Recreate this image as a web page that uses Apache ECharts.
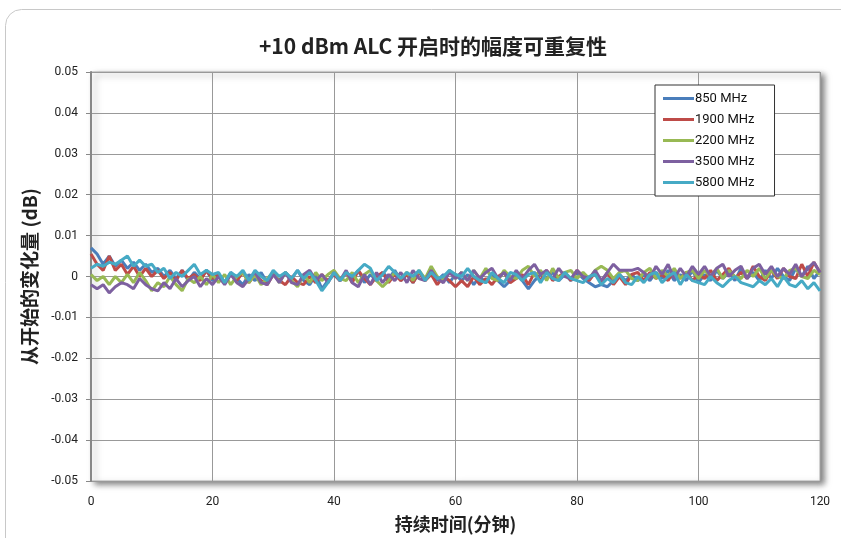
<!DOCTYPE html>
<html><head><meta charset="utf-8">
<script src="https://cdn.jsdelivr.net/npm/echarts@6/dist/echarts.min.js"></script>
<style>html,body{margin:0;padding:0;background:#fff}#c{width:841px;height:538px}</style>
</head><body><div id="c"></div>
<script>
// values in units of 0.001 dB, one per minute (0..120)
const s850 = [7,5.5,3,5,2.5,4,2,3.5,1.5,3,1, 2,0,1.5,-0.5,1.5,-1,1,-0.5,1.5,-1, 0.5,-1.5,1,-0.5,-2,0.5,-1,1,-1.5,0.5, -1,1,-0.5,1.5,-1,-2,0.5,-3,-1,0.5, -1,1,-0.5,1.5,-1.5,0.5,-1,1,-0.5,1.5, -1,0.5,-1.5,1,-0.5,1.5,-1,0.5,-1.5,0.5, -1,0.5,-2,0,-1.5,0.5,-1,-2.5,-1,0.5, -1,-3,-1,0.5,-0.5,1,-1,0.5,-1,1, -0.5,-1.5,-2.5,-2,-2.5,-1,0.5,-1,0.5,-1, 0.5,-1,1,-0.5,1.5,-1,0.5,-1,1.5,-1.5, 0.5,-1,1.5,-0.5,1,-1,2,-0.5,1,-1, 1.5,-0.5,2,0,-1,2,0,2.5,-0.5,1.5];
const s1900 = [5.5,3,1.5,5,1.5,3,0.5,2.5,0,2,0, 1.5,-0.5,1,-1,1.5,-0.5,0.5,-1,1.5,-0.5, 0.5,-1.5,0.5,-1,1,-1.5,0.5,-1,-2,0.5, -1,-2,0,-1.5,-2,0,-1.5,0.5,-1,0.5, -1,1,-1.5,1.5,-0.5,-2,0,1,-1.5,0.5, -1,0.5,-1.5,1,-1,0.5,-2,0,-1,-2.5, -1,-2.5,0,-2,-0.5,-2,0,1,-1.5,-0.5, 0.5,-2,1,-1,1.5,-1,0,1,-1,1.5, 0,-1,1,-1.5,1,-2,0,-2,0.5,1, -1,1,-0.5,0.5,-1,1.5,-0.5,1,-1,0.5, -0.5,1.5,-1,0.5,2,-0.5,1,-0.5,2.5,0, -1,1.5,-0.5,2,0,-0.5,3,0,3.5,1];
const s2200 = [0.5,-1,0,-2,0,-1.5,0.5,-1.5,1,-1,-3.5, -1.5,-2.5,0,-2,-3.5,-0.5,-1.5,0,-2,0.5, -1.5,0.5,-2,0,1,-1.5,0.5,-2,-0.5,1, -1.5,1,-1,-2.5,0.5,-1.5,1,-1,0.5,1.5, -0.5,-1,1,-1.5,0.5,1.5,-1,-2.5,-1,1, -0.5,1,-1,1.5,-0.5,2.5,0,-1,1.5,-0.5, 1,-1,1.5,-0.5,2,-0.5,-1,1.5,0,-0.5, 1.5,2.5,0,1.5,-1,2,-0.5,1,1.5,-0.5, 1,-0.5,1.5,2.5,1.5,-0.5,1,1.5,-0.5,-1, 1,2,-0.5,1.5,0,2,-0.5,1,1.5,-0.5, 1.5,0,2,-0.5,1.5,0,-0.5,1.5,0,2, -0.5,1.5,0,-0.5,1.5,2,0,-0.5,1.5,0.5];
const s3500 = [-2,-3,-2,-4,-2.5,-1.5,-2,-3,-0.5,-2,-3, -3.5,-1.5,-3,-0.5,-2.5,-1,0,-2.5,-0.5,-2, 0,-2,0.5,-1.5,-2.5,-0.5,1,-1.5,-2,0.5, -1.5,1,-1.5,-2,0.5,1.5,-1,0.5,-1.5,1, -1,1.5,-1.5,-2.5,0.5,-2,1,-1.5,0.5,-1, 1,-1.5,1.5,-0.5,-1,1.5,-0.5,-1.5,1,-0.5, 1,-1,1.5,-0.5,1,2,-0.5,1,-1,1.5, -0.5,1.5,3,0.5,1.5,-0.5,2,0,-0.5,1.5, 0,-0.5,1.5,-1,1,3,1.5,1.5,1.5,2, 1,-0.5,2.5,0.5,3,-0.5,2,0,2.5,0.5, 2.5,0,2,3,0,1.5,2.5,-0.5,2,3, 0.5,2.5,0,2,0.5,3,0,2,3.5,1];
const s5800 = [2,3,2.5,3.5,3,4,5,2.5,4,2.5,3, 1,2,-0.5,1,0,1.5,3,0.5,1.5,0.5, 1,-1.5,1,0,1.5,-1,1.5,0,-1,1.5, 0,1,-0.5,1.5,-0.5,1,-1,-3.5,-1.5,1, -1,1,0,1.5,3,2,-1,0.5,2.5,1, -0.5,1,0,1.5,-1,1,-0.5,0,1.5,0.5, 0,2,0,-1,-1.5,1,-0.5,-1.5,1,0.5, -1,0.5,1,-1.5,1,-0.5,-1,1,-0.5,-1, -1.5,0,0.5,-2,-0.5,-1.5,0.5,-1.5,-2,0, -1.5,0.5,1,-1.5,0,1,-2,0.5,-1,-1.5, -2,0,-1.5,-2.5,-1,0,-1.5,-2,-2.5,-1, -2,-0.5,-2.5,0,-2,-2.5,-1,-3,-1.5,-3.5];
const seriesNames = ['850 MHz','1900 MHz','2200 MHz','3500 MHz','5800 MHz'];
const seriesData = [s850, s1900, s2200, s3500, s5800];
const colors = ['#4a7ebb','#be4b48','#98b954','#7d60a0','#46aac5'];
const yTicks = [-0.05,-0.04,-0.03,-0.02,-0.01,0,0.01,0.02,0.03,0.04,0.05];
const xTicks = [0,20,40,60,80,100,120];

const chart = echarts.init(document.getElementById('c'));
const font = 'Roboto, "Noto Sans CJK SC", sans-serif';
const cjk = '"Noto Sans CJK SC", sans-serif';
chart.setOption({
  animation: false,
  color: colors,
  title: {
    text: '+10 dBm ALC 开启时的幅度可重复性',
    left: 428, top: 31, textAlign: 'center',
    textStyle: {fontFamily: cjk, fontSize: 21, fontWeight: 'bold', color: '#222'}
  },
  graphic: [{
    type: 'rect', z: -10,
    shape: {x: 5.5, y: 9.5, width: 860, height: 560, r: 16},
    style: {fill: 'none', stroke: '#c8c8c8', lineWidth: 1}
  }],
  legend: {
    orient: 'vertical', left: 655, top: 85,
    data: seriesNames,
    icon: 'rect', itemWidth: 31, itemHeight: 3, itemGap: 8,
    padding: [7, 20, 7, 8],
    backgroundColor: '#fff', borderColor: '#333', borderWidth: 1,
    textStyle: {fontFamily: font, fontSize: 13, color: '#111', padding: [0,0,0,-4]}
  },
  grid: {
    left: 91, right: 21, top: 72, bottom: 55,
    show: true, backgroundColor: '#fff', borderColor: '#aaa', borderWidth: 1,
    shadowColor: 'rgba(0,0,0,0.5)', shadowBlur: 6, shadowOffsetX: 4, shadowOffsetY: 3
  },
  xAxis: {
    type: 'value', min: 0, max: 120, interval: 20,
    name: '持续时间(分钟)', nameLocation: 'middle', nameGap: 34,
    nameTextStyle: {fontFamily: cjk, fontSize: 18, fontWeight: 'bold', color: '#222'},
    axisLine: {show: false},
    axisTick: {show: false},
    axisLabel: {fontFamily: font, fontSize: 12, color: '#222', margin: 15},
    splitLine: {show: true, lineStyle: {color: '#999', width: 1}}
  },
  yAxis: {
    type: 'value', min: -0.05, max: 0.05, interval: 0.01,
    name: '从开始的变化量 (dB)', nameLocation: 'middle', nameGap: 52,
    nameTextStyle: {fontFamily: cjk, fontSize: 19, fontWeight: 'bold', color: '#222'},
    axisLine: {show: true, onZero: false, lineStyle: {color: '#888', width: 2}},
    axisTick: {show: true, length: 5, lineStyle: {color: '#888'}},
    axisLabel: {fontFamily: font, fontSize: 12, color: '#222', margin: 13,
      formatter: v => { const r = Math.round(v*100)/100; return r === 0 ? '0' : r.toFixed(2); }},
    splitLine: {show: true, lineStyle: {color: '#999', width: 1}}
  },
  series: seriesNames.map((n, i) => ({
    name: n, type: 'line', showSymbol: false, symbol: 'none',
    lineStyle: {width: 3, color: colors[i]},
    data: seriesData[i].map((v, t) => [t, v / 1000])
  }))
});
</script></body></html>
